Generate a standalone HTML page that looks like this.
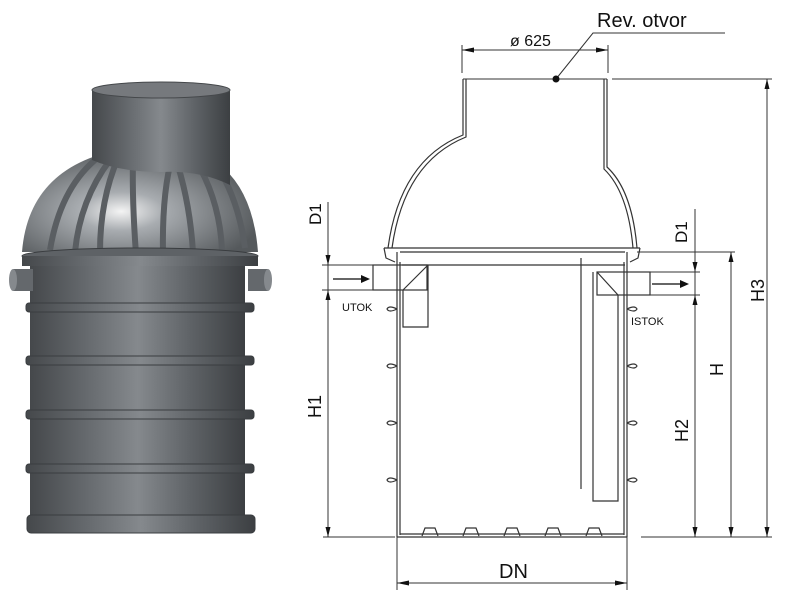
<!DOCTYPE html>
<html><head><meta charset="utf-8"><style>
html,body{margin:0;padding:0;background:#fff;width:800px;height:600px;overflow:hidden}
svg text{font-family:"Liberation Sans",sans-serif;fill:#111}
</style></head><body>
<svg width="800" height="600" viewBox="0 0 800 600" xmlns="http://www.w3.org/2000/svg">
<defs>
<linearGradient id="cyl" x1="0" x2="1" y1="0" y2="0">
<stop offset="0" stop-color="#45484b"/><stop offset="0.25" stop-color="#64686c"/><stop offset="0.5" stop-color="#85898d"/><stop offset="0.75" stop-color="#5e6266"/><stop offset="1" stop-color="#3c3f42"/></linearGradient>
<radialGradient id="dome" cx="0.42" cy="0.62" r="0.6">
<stop offset="0" stop-color="#f4f4f4"/><stop offset="0.3" stop-color="#a8acb0"/><stop offset="1" stop-color="#55595c"/></radialGradient>
</defs>
<!-- 3D tank -->
<path d="M22 252 Q30 150 161 145 Q250 150 258 252 Z" fill="url(#dome)"/>
<g stroke="#5a5e62" stroke-width="6" fill="none">
<path d="M50 250 Q60 190 95 160"/><path d="M75 252 Q80 200 110 160"/><path d="M100 252 Q100 200 118 158"/>
<path d="M136 254 Q132 200 133 160"/><path d="M163 254 Q162 200 170 165"/><path d="M193 252 Q190 205 178 166"/>
<path d="M222 250 Q220 205 200 168"/><path d="M245 248 Q240 210 225 180"/></g>
<path d="M92 90 L230 90 L230 185 Q200 170 161 172 Q120 172 92 160 Z" fill="url(#cyl)"/>
<ellipse cx="161" cy="90" rx="69" ry="8" fill="#76797d" stroke="#45484b"/>
<rect x="30" y="260" width="215" height="270" fill="url(#cyl)"/>
<ellipse cx="140" cy="256" rx="118" ry="8" fill="#5e6266" stroke="#3a3d40"/>
<rect x="22" y="256" width="236" height="10" fill="url(#cyl)"/>
<g fill="url(#cyl)" stroke="#3a3d40" stroke-width="1">
<rect x="26" y="303" width="228" height="9" rx="3"/><rect x="26" y="356" width="228" height="9" rx="3"/>
<rect x="26" y="410" width="228" height="9" rx="3"/><rect x="26" y="464" width="228" height="9" rx="3"/>
<rect x="27" y="515" width="228" height="18" rx="4"/></g>
<rect x="13" y="269" width="20" height="22" fill="#64686c"/><ellipse cx="13" cy="280" rx="4" ry="11" fill="#85898d"/>
<rect x="248" y="269" width="20" height="22" fill="#64686c"/><ellipse cx="268" cy="280" rx="4" ry="11" fill="#85898d"/>

<!-- technical drawing -->
<g stroke="#333" stroke-width="1.2" fill="none">
<path d="M463 79 L463 135 Q400 160 388 248"/><path d="M466 79 L466 137 Q404 162 392 248"/>
<path d="M607 79 L607 167 Q632 190 637 248"/><path d="M604 79 L604 169 Q628 192 633 248"/>
<line x1="463" y1="79" x2="607" y2="79" stroke-width="1"/>
<path d="M384 248 L640 248"/><path d="M400 252 L625 252"/><path d="M402 265 L625 265"/>
<path d="M384 248 L386 258 L395 262 M640 248 L638 258 L630 262"/>
<path d="M397 252 L397 537 M400 262 L400 535"/>
<path d="M627 252 L627 537 M624 262 L624 535"/>
<path d="M397 309 q-8 -4 -10 0 q2 4 10 0 M397 366 q-8 -4 -10 0 q2 4 10 0 M397 423 q-8 -4 -10 0 q2 4 10 0 M397 480 q-8 -4 -10 0 q2 4 10 0"/>
<path d="M627 309 q8 -4 10 0 q-2 4 -10 0 M627 366 q8 -4 10 0 q-2 4 -10 0 M627 423 q8 -4 10 0 q-2 4 -10 0 M627 480 q8 -4 10 0 q-2 4 -10 0"/>
<path d="M397 537 L627 537 M400 534 L624 534"/>
<path d="M422 536 l3 -8 h10 l3 8 M463 536 l3 -8 h10 l3 8 M504 536 l3 -8 h10 l3 8 M545 536 l3 -8 h10 l3 8 M586 536 l3 -8 h10 l3 8"/>
<rect x="373" y="265" width="54" height="25"/>
<path d="M403 290 L403 327 L428 327 L428 265 M403 290 L427 266"/>
<rect x="597" y="272" width="53" height="23"/>
<path d="M593 272 L593 501 L618 501 L618 295 M597 272 L618 295"/>
<line x1="581" y1="258" x2="581" y2="489"/>
</g>
<g stroke="#333" stroke-width="1" fill="none">
<line x1="462" y1="45" x2="462" y2="73"/><line x1="608" y1="45" x2="608" y2="73"/>
<line x1="462" y1="50" x2="608" y2="50"/>
<path d="M556 79 L593 33 L725 33"/>
<line x1="612" y1="79" x2="772" y2="79"/>
<line x1="767" y1="79" x2="767" y2="537"/>
<line x1="322" y1="265" x2="373" y2="265"/><line x1="322" y1="290" x2="373" y2="290"/>
<line x1="328" y1="202" x2="328" y2="537"/>
<line x1="650" y1="272" x2="700" y2="272"/><line x1="650" y1="295" x2="700" y2="295"/>
<line x1="637" y1="252" x2="735" y2="252"/>
<line x1="695" y1="209" x2="695" y2="537"/>
<line x1="731" y1="252" x2="731" y2="537"/>
<line x1="323" y1="537" x2="395" y2="537"/><line x1="641" y1="537" x2="772" y2="537"/>
<line x1="397" y1="537" x2="397" y2="590"/><line x1="627" y1="537" x2="627" y2="590"/>
<line x1="397" y1="583" x2="627" y2="583"/>
<line x1="333" y1="279" x2="362" y2="279" stroke-width="1.5"/>
<line x1="652" y1="284" x2="680" y2="284" stroke-width="1.5"/>
</g>
<g fill="#111">
<circle cx="556" cy="79" r="3.5"/>
<path d="M462 50 l12 -2.5 v5 z M608 50 l-12 -2.5 v5 z"/>
<path d="M370 279 l-9 -4 v8 z M689 284 l-9 -4 v8 z"/>
<path d="M767 79 l-2.5 10 h5 z M767 537 l-2.5 -10 h5 z"/>
<path d="M328 265 l-2.5 -10 h5 z M328 290 l-2.5 10 h5 z M328 537 l-2.5 -10 h5 z"/>
<path d="M695 272 l-2.5 -10 h5 z M695 295 l-2.5 10 h5 z M695 537 l-2.5 -10 h5 z"/>
<path d="M731 252 l-2.5 10 h5 z M731 537 l-2.5 -10 h5 z"/>
<path d="M397 583 l12 -2.5 v5 z M627 583 l-12 -2.5 v5 z"/>
</g>
<text x="597" y="27" font-size="20">Rev. otvor</text>
<text x="510" y="46" font-size="16">ø 625</text>
<text x="499" y="578" font-size="20">DN</text>
<text x="342" y="311" font-size="11">UTOK</text>
<text x="631" y="325" font-size="11">ISTOK</text>
<text transform="translate(321,225) rotate(-90)" font-size="17">D1</text>
<text transform="translate(687,243) rotate(-90)" font-size="17">D1</text>
<text transform="translate(321,418) rotate(-90)" font-size="18">H1</text>
<text transform="translate(688,442) rotate(-90)" font-size="18">H2</text>
<text transform="translate(723,376) rotate(-90)" font-size="18">H</text>
<text transform="translate(764,302) rotate(-90)" font-size="18">H3</text>
</svg>
</body></html>
